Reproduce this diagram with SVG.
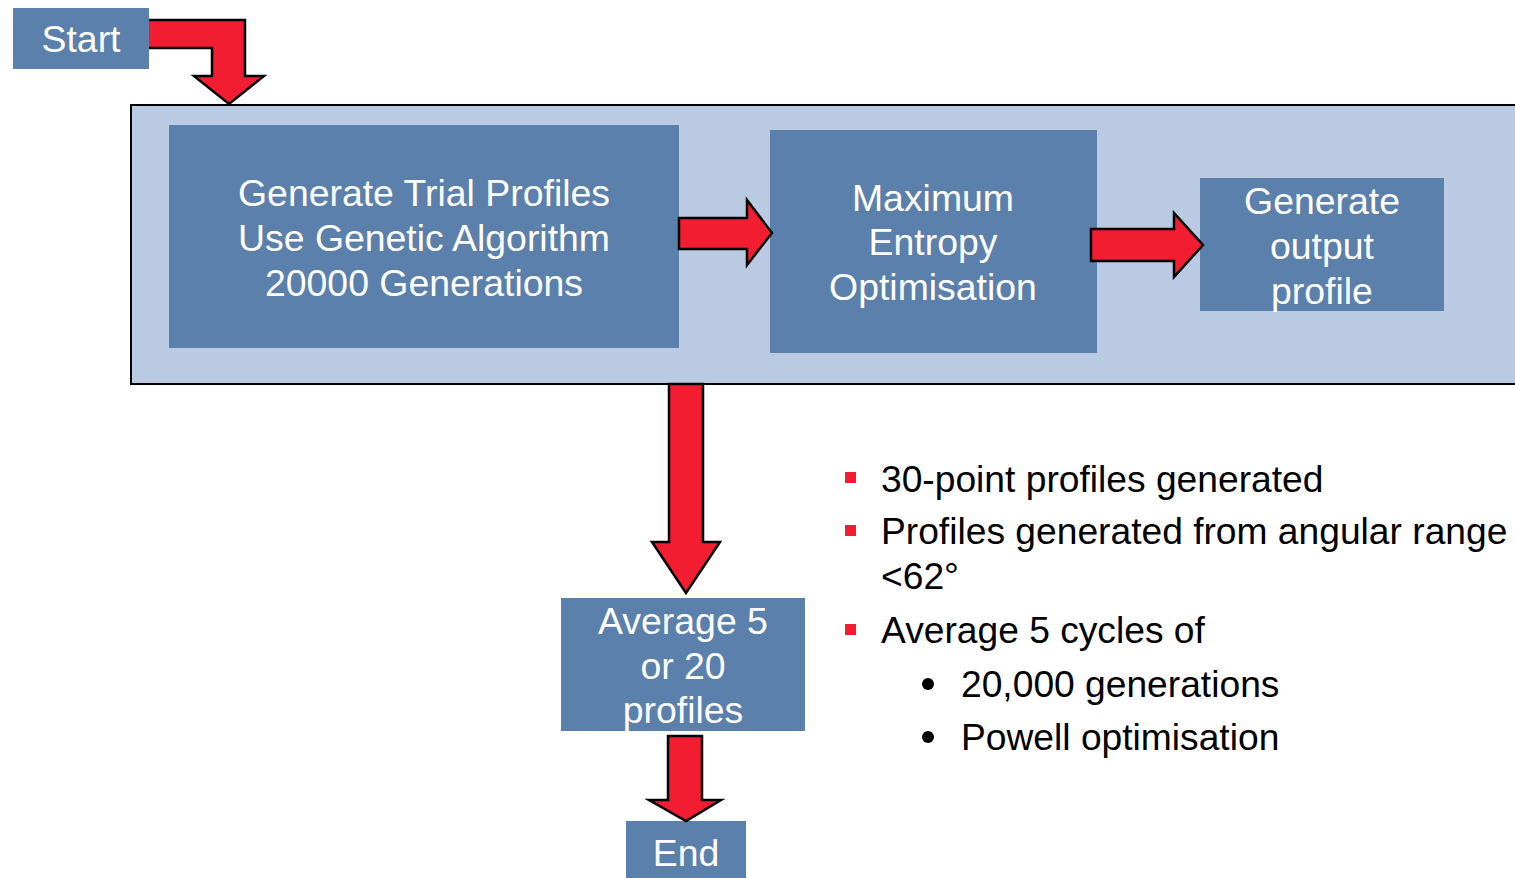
<svg xmlns="http://www.w3.org/2000/svg" width="1515" height="878" viewBox="0 0 1515 878">
<style>
.node{fill:#5B80AB}
.t{fill:#fff;font-family:"Liberation Sans",Arial,sans-serif;font-size:37.4px;text-anchor:middle}
.arr{fill:#F31D31;stroke:#000;stroke-width:2.5;stroke-linejoin:miter}
.b{fill:#000;font-family:"Liberation Sans",Arial,sans-serif;font-size:37.2px}
.sq{fill:#F31D31}
</style>
<rect width="1515" height="878" fill="#fff"/>
<g id="container">
<rect x="131" y="105" width="1390" height="279" fill="#BBCAE3" stroke="#000" stroke-width="2"/>
</g>
<g id="start">
<rect class="node" x="13" y="8" width="136" height="61"/>
<text class="t" x="81" y="52">Start</text>
</g>
<g id="ga">
<rect class="node" x="169" y="125" width="510" height="223"/>
<text class="t" x="424" y="206">Generate Trial Profiles</text>
<text class="t" x="424" y="251">Use Genetic Algorithm</text>
<text class="t" x="424" y="296">20000 Generations</text>
</g>
<g id="maxent">
<rect class="node" x="770" y="130" width="327" height="223"/>
<text class="t" x="933" y="211">Maximum</text>
<text class="t" x="933" y="255">Entropy</text>
<text class="t" x="933" y="300">Optimisation</text>
</g>
<g id="output">
<rect class="node" x="1200" y="178" width="244" height="133"/>
<text class="t" x="1322" y="214">Generate</text>
<text class="t" x="1322" y="259">output</text>
<text class="t" x="1322" y="304">profile</text>
</g>
<g id="average">
<rect class="node" x="561" y="598" width="244" height="133"/>
<text class="t" x="683" y="634">Average 5</text>
<text class="t" x="683" y="679">or 20</text>
<text class="t" x="683" y="723">profiles</text>
</g>
<g id="end">
<rect class="node" x="626" y="821" width="120" height="60"/>
<text class="t" x="686" y="866">End</text>
</g>
<g id="connectors">
<path class="arr" d="M149,20 L245,20 L245,76 L264,76 L229,104 L194,76 L212,76 L212,48 L149,48"/>
<path class="arr" d="M679,218 L747,218 L747,200 L772,233 L747,265 L747,249 L679,249 Z"/>
<path class="arr" d="M1091,229 L1174,229 L1174,213 L1203,245 L1174,277 L1174,261 L1091,261 Z"/>
<path class="arr" d="M669,384 L703,384 L703,542 L720,542 L686,593 L652,542 L669,542 Z"/>
<path class="arr" d="M668,736 L702,736 L702,800 L721,800 L686,821 L649,800 L668,800 Z"/>
</g>
<g id="bullets">
<rect class="sq" x="845" y="472" width="11" height="11"/>
<text class="b" x="881" y="492">30-point profiles generated</text>
<rect class="sq" x="845" y="525" width="11" height="11"/>
<text class="b" x="881" y="544">Profiles generated from angular range</text>
<text class="b" x="881" y="589">&lt;62°</text>
<rect class="sq" x="845" y="624" width="11" height="11"/>
<text class="b" x="881" y="643">Average 5 cycles of</text>
<circle cx="928" cy="684" r="6" fill="#000"/>
<text class="b" x="961" y="697">20,000 generations</text>
<circle cx="928" cy="737" r="6" fill="#000"/>
<text class="b" x="961" y="750">Powell optimisation</text>
</g>
</svg>
